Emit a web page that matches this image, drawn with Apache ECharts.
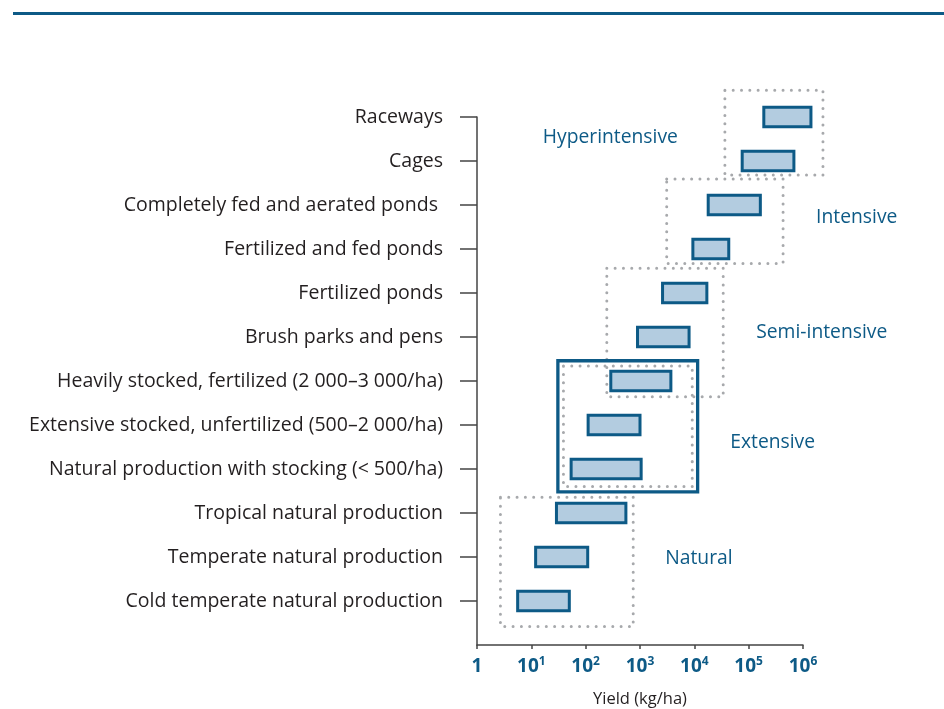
<!DOCTYPE html>
<html>
<head>
<meta charset="utf-8">
<script src="https://cdn.jsdelivr.net/npm/echarts@6/dist/echarts.min.js"></script>
<style>
  html, body { margin: 0; padding: 0; background: #ffffff; }
  #chart { width: 944px; height: 709px; }
</style>
</head>
<body>
<div id="chart"></div>
<script>
// Aquaculture systems, bottom row first
const categories = [
  'Cold temperate natural production',
  'Temperate natural production',
  'Tropical natural production',
  'Natural production with stocking (< 500/ha)',
  'Extensive stocked, unfertilized (500–2 000/ha)',
  'Heavily stocked, fertilized (2 000–3 000/ha)',
  'Brush parks and pens',
  'Fertilized ponds',
  'Fertilized and fed ponds',
  'Completely fed and aerated ponds ',
  'Cages',
  'Raceways'
];
// yield range of each system, kg/ha
const yieldLow  = [5.6, 12, 29, 54, 111, 290, 900, 2600, 9400, 18000, 76000, 190000];
const yieldHigh = [50, 109, 550, 1050, 1000, 3700, 8000, 17000, 43000, 164000, 680000, 1400000];
const xTicks = [1, 10, 100, 1000, 10000, 100000, 1000000];

// intensity groups: yield span and row span (rows counted from 1 at the bottom)
const groupNames  = ['Natural', 'Extensive', 'Semi-intensive', 'Intensive', 'Hyperintensive'];
const groupLow    = [2.7, 39, 245, 3100, 36500];
const groupHigh   = [750, 9150, 34000, 430000, 2330000];
const groupBottom = [0.42, 3.6, 5.64, 8.67, 10.68];
const groupTop    = [3.36, 6.34, 8.56, 10.59, 12.61];
// solid frame around the extensive group
const frameLow = 30.8, frameHigh = 11500, frameBottom = 3.48, frameTop = 6.46;

const BLUE = '#0d5a86';
const TEXT = '#231f20';
const FONT = '"Open Sans", "Noto Sans", sans-serif';

// where each group name sits next to its box
const groupLabelLayout = [
  { side: 'right', dx: 32, dy: -3 },
  { side: 'right', dx: 38, dy: 16 },
  { side: 'right', dx: 33, dy: 0 },
  { side: 'right', dx: 33, dy: -4 },
  { side: 'left',  dx: 47, dy: 4.5 }
];

const barData = categories.map((c, i) => [yieldLow[i], yieldHigh[i], i + 1]);
const groupData = groupNames.map((g, i) => [groupLow[i], groupHigh[i], groupBottom[i], groupTop[i]]);
const axisCategories = [''].concat(categories);

const chart = echarts.init(document.getElementById('chart'));

chart.setOption({
  backgroundColor: '#ffffff',
  animation: false,
  graphic: [{
    type: 'line',
    shape: { x1: 13, y1: 13.5, x2: 944, y2: 13.5 },
    style: { stroke: BLUE, lineWidth: 3 }
  }],
  grid: { left: 477, right: 141, top: 117, bottom: 64, outerBoundsMode: 'none', containLabel: false },
  xAxis: {
    type: 'log',
    logBase: 10,
    min: 1,
    max: 1000000,
    name: 'Yield (kg/ha)',
    nameLocation: 'middle',
    nameGap: 46,
    nameTextStyle: { fontFamily: FONT, fontSize: 16.5, color: TEXT },
    axisLine: { lineStyle: { color: '#444444', width: 1.5 } },
    axisTick: { show: true, length: 4, lineStyle: { color: '#444444', width: 1.5 } },
    minorTick: { show: false },
    splitLine: { show: false },
    axisLabel: {
      margin: 11,
      formatter: function (v) {
        const p = Math.round(Math.log10(v));
        if (xTicks.indexOf(v) < 0) return '';
        return p === 0 ? '{b|1}' : '{b|10}{s|' + p + '}';
      },
      rich: {
        b: { fontFamily: FONT, fontSize: 19, fontWeight: 'bold', color: BLUE, lineHeight: 22 },
        s: { fontFamily: FONT, fontSize: 12, fontWeight: 'bold', color: BLUE, lineHeight: 12, verticalAlign: 'top' }
      }
    }
  },
  yAxis: [{
    type: 'category',
    data: axisCategories,
    boundaryGap: false,
    axisLine: { lineStyle: { color: '#444444', width: 1.5 } },
    axisTick: {
      show: true, length: 17,
      interval: function (index) { return index !== 0; },
      lineStyle: { color: '#444444', width: 1.5 }
    },
    axisLabel: {
      margin: 34,
      interval: 0,
      fontFamily: FONT, fontSize: 19.5, color: TEXT
    },
    splitLine: { show: false }
  }, {
    type: 'value',
    min: 0,
    max: 12,
    show: false
  }],
  series: [{
    // dotted group boxes with their names
    type: 'custom',
    yAxisIndex: 1,
    clip: false,
    z: 1,
    encode: { x: [0, 1], y: [2, 3] },
    data: groupData,
    renderItem: function (params, api) {
      const i = params.dataIndex;
      const p1 = api.coord([api.value(0), api.value(3)]);
      const p2 = api.coord([api.value(1), api.value(2)]);
      const lay = groupLabelLayout[i];
      const cy = (p1[1] + p2[1]) / 2 + lay.dy;
      const tx = lay.side === 'right' ? p2[0] + lay.dx : p1[0] - lay.dx;
      return {
        type: 'group',
        children: [{
          type: 'rect',
          shape: { x: p1[0], y: p1[1], width: p2[0] - p1[0], height: p2[1] - p1[1] },
          style: { fill: 'none', stroke: '#a7a9ac', lineWidth: 3, lineDash: [0.01, 8.3], lineCap: 'round' }
        }, {
          type: 'text',
          style: {
            x: tx, y: cy,
            text: groupNames[i],
            fill: BLUE,
            font: '19.3px ' + FONT,
            align: lay.side === 'right' ? 'left' : 'right',
            verticalAlign: 'middle'
          }
        }]
      };
    }
  }, {
    // solid frame around the extensive systems
    type: 'custom',
    yAxisIndex: 1,
    clip: false,
    z: 2,
    encode: { x: [0, 1], y: [2, 3] },
    data: [[frameLow, frameHigh, frameBottom, frameTop]],
    renderItem: function (params, api) {
      const p1 = api.coord([api.value(0), api.value(3)]);
      const p2 = api.coord([api.value(1), api.value(2)]);
      return {
        type: 'rect',
        shape: { x: p1[0], y: p1[1], width: p2[0] - p1[0], height: p2[1] - p1[1] },
        style: { fill: 'none', stroke: BLUE, lineWidth: 3.3 }
      };
    }
  }, {
    // yield range bars
    type: 'custom',
    yAxisIndex: 1,
    clip: false,
    z: 3,
    encode: { x: [0, 1], y: 2 },
    data: barData,
    renderItem: function (params, api) {
      const lo = api.coord([api.value(0), api.value(2)]);
      const hi = api.coord([api.value(1), api.value(2)]);
      const h = 19.5;
      return {
        type: 'rect',
        shape: { x: lo[0], y: lo[1] - h / 2, width: hi[0] - lo[0], height: h },
        style: { fill: '#b3cce0', stroke: BLUE, lineWidth: 3 }
      };
    }
  }]
});
</script>
</body>
</html>
